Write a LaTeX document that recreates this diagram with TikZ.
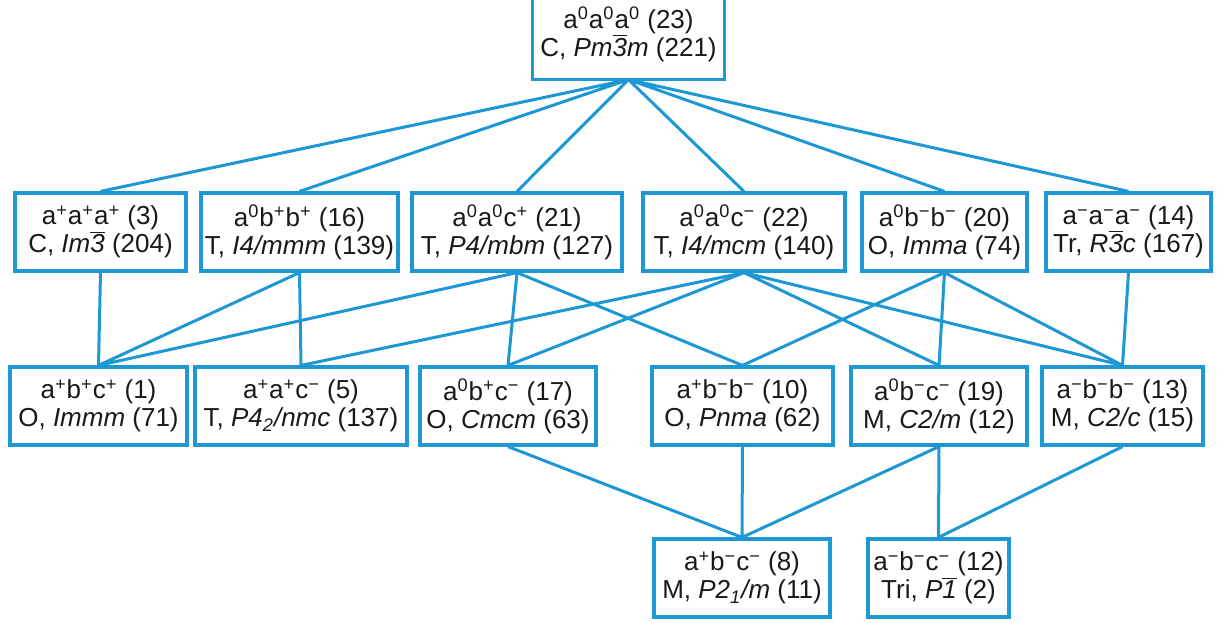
\documentclass[tikz,border=0pt]{standalone}
\usepackage{fontspec}
\setmainfont{Liberation Sans}
\definecolor{glazer}{RGB}{30,152,212}
\newcommand{\up}[1]{\textsuperscript{#1}}
\newcommand{\bart}[1]{$\overline{\mbox{\itshape #1}}$}

\begin{document}
\begin{tikzpicture}[
        x=0.5pt, y=-0.5pt, % координаты в пикселях
        tilt/.style={draw=glazer, line width=1.6pt, fill=white, align=center,
            text=black!90, font=\fontsize{13}{14}\selectfont,
            inner sep=0pt, minimum height=39pt}, % Стиль узлов
        link/.style={draw=glazer, line width=1.5pt},
    ]
    \path[use as bounding box, clip] (0,0) rectangle (1221,622);

    % верхний уровень (верхний край за рамкой)
    \node[tilt, draw=none, minimum width=94.5pt, minimum height=44pt] (g23) at (628.5,34)
        {a\up{0}a\up{0}a\up{0} (23)\\C, \textit{Pm}\bart{3}\textit{m} (221)};
    \draw[glazer, line width=1.6pt] (g23.north west) -- (g23.south west)
        -- (g23.south east) -- (g23.north east);

    % второй уровень
    \node[tilt, minimum width=85.5pt] (g3) at (100.5,232)
        {a\up{+}a\up{+}a\up{+} (3)\\C, \textit{Im}\bart{3} (204)};
    \node[tilt, minimum width=98.5pt] (g16) at (299.5,232)
        {a\up{0}b\up{+}b\up{+} (16)\\T, \textit{I4/mmm} (139)};
    \node[tilt, minimum width=105pt] (g21) at (517,232)
        {a\up{0}a\up{0}c\up{+} (21)\\T, \textit{P4/mbm} (127)};
    \node[tilt, minimum width=101pt] (g22) at (744,232)
        {a\up{0}a\up{0}c\up{−} (22)\\T, \textit{I4/mcm} (140)};
    \node[tilt, minimum width=82.5pt] (g20) at (944.5,232)
        {a\up{0}b\up{−}b\up{−} (20)\\O, \textit{Imma} (74)};
    \node[tilt, minimum width=82.5pt] (g14) at (1128.5,232)
        {a\up{−}a\up{−}a\up{−} (14)\\Tr, \textit{R}\bart{3}\textit{c} (167)};

    % третий уровень
    \node[tilt, minimum width=88.5pt] (g1) at (98.5,406)
        {a\up{+}b\up{+}c\up{+} (1)\\O, \textit{Immm} (71)};
    \node[tilt, minimum width=106pt] (g5) at (301,406)
        {a\up{+}a\up{+}c\up{−} (5)\\T, \textit{P4\textsubscript{2}/nmc} (137)};
    \node[tilt, minimum width=88pt] (g17) at (508,406)
        {a\up{0}b\up{+}c\up{−} (17)\\O, \textit{Cmcm} (63)};
    \node[tilt, minimum width=90.5pt] (g10) at (742.5,406)
        {a\up{+}b\up{−}b\up{−} (10)\\O, \textit{Pnma} (62)};
    \node[tilt, minimum width=88pt] (g19) at (939,406)
        {a\up{0}b\up{−}c\up{−} (19)\\M, \textit{C2/m} (12)};
    \node[tilt, minimum width=80.5pt] (g13) at (1122.5,406)
        {a\up{−}b\up{−}b\up{−} (13)\\M, \textit{C2/c} (15)};

    % нижний уровень
    \node[tilt, minimum width=88pt] (g8) at (742,578)
        {a\up{+}b\up{−}c\up{−} (8)\\M, \textit{P2\textsubscript{1}/m} (11)};
    \node[tilt, minimum width=70.5pt] (g12) at (938.5,578)
        {a\up{−}b\up{−}c\up{−} (12)\\Tri, \textit{P}\bart{1} (2)};

    % связи
    \draw[link] (g23.south) -- (g3.north)  (g23.south) -- (g16.north)
        (g23.south) -- (g21.north) (g23.south) -- (g22.north)
        (g23.south) -- (g20.north) (g23.south) -- (g14.north);
    \draw[link] (g3.south) -- (g1.north)
        (g16.south) -- (g1.north)  (g16.south) -- (g5.north)
        (g21.south) -- (g1.north)  (g21.south) -- (g17.north) (g21.south) -- (g10.north)
        (g22.south) -- (g5.north)  (g22.south) -- (g17.north)
        (g22.south) -- (g19.north) (g22.south) -- (g13.north)
        (g20.south) -- (g10.north) (g20.south) -- (g19.north) (g20.south) -- (g13.north)
        (g14.south) -- (g13.north);
    \draw[link] (g17.south) -- (g8.north) (g10.south) -- (g8.north)
        (g19.south) -- (g8.north) (g19.south) -- (g12.north)
        (g13.south) -- (g12.north);

\end{tikzpicture}
\end{document}
